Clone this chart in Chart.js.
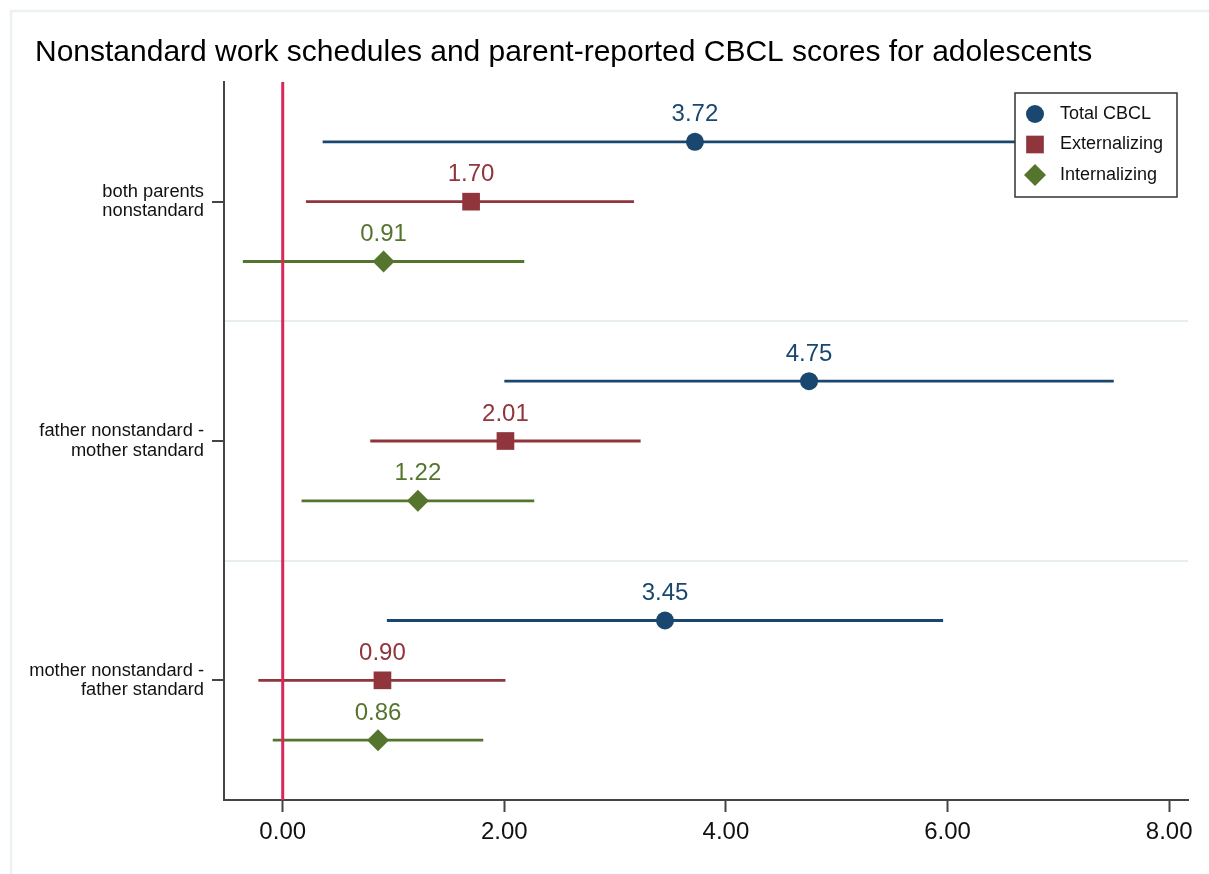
<!DOCTYPE html>
<html>
<head>
<meta charset="utf-8">
<script src="https://cdn.jsdelivr.net/npm/chart.js@4.4.1/dist/chart.umd.min.js"></script>
<style>
  html, body { margin: 0; padding: 0; background: #fff; }
  #wrap { width: 1209px; height: 874px; }
</style>
</head>
<body>
<div id="wrap"><canvas id="cbclChart" width="1209" height="874"></canvas></div>
<script>
// Groups (y categories), top to bottom
const groupLabels = [
    ['both parents', 'nonstandard'],
    ['father nonstandard -', 'mother standard'],
    ['mother nonstandard -', 'father standard']
];
const seriesNames = ['Total CBCL', 'Externalizing', 'Internalizing'];

// Estimates and 95% CI bounds, one value per group
const totalEst = [3.72, 4.75, 3.45];
const totalLo  = [0.36, 2.00, 0.94];
const totalHi  = [7.08, 7.50, 5.96];

const extEst = [1.70, 2.01, 0.90];
const extLo  = [0.21, 0.79, -0.22];
const extHi  = [3.17, 3.23, 2.01];

const intEst = [0.91, 1.22, 0.86];
const intLo  = [-0.36, 0.17, -0.09];
const intHi  = [2.18, 2.27, 1.81];

const xTicks = [0, 2, 4, 6, 8];

const colors = ['#1a476f', '#90353b', '#55752f'];
const styles = ['circle', 'rect', 'rectRot'];
const radii = [9, 12.5, 11];

const est = [totalEst, extEst, intEst];
const lo = [totalLo, extLo, intLo];
const hi = [totalHi, extHi, intHi];

// row position: each group takes 4 units, series stacked inside
function rowY(g, s) { return 4 * g + 1 + s; }

let datasets = [];

// point markers
seriesNames.forEach(function (name, s) {
    datasets.push({
        type: 'scatter',
        label: name,
        isPoint: true,
        data: est[s].map((v, g) => ({ x: v, y: rowY(g, s) })),
        backgroundColor: colors[s],
        borderColor: colors[s],
        pointStyle: styles[s],
        pointRadius: radii[s],
        pointHoverRadius: radii[s],
        borderWidth: 0,
        order: 0
    });
});

// zero reference line
datasets.push({
    type: 'line',
    label: 'zero',
    data: [{ x: 0, y: 0 }, { x: 0, y: 12 }],
    borderColor: '#d7285c',
    borderWidth: 3,
    pointRadius: 0,
    order: 1
});

// confidence interval lines, segments split by null points
seriesNames.forEach(function (name, s) {
    let pts = [];
    lo[s].forEach(function (l, g) {
        pts.push({ x: l, y: rowY(g, s) });
        pts.push({ x: hi[s][g], y: rowY(g, s) });
        pts.push({ x: hi[s][g], y: null });
    });
    datasets.push({
        type: 'line',
        label: name + ' CI',
        data: pts,
        borderColor: colors[s],
        borderWidth: 2.8,
        pointRadius: 0,
        spanGaps: false,
        order: 2
    });
});

// outer frame (top and left light lines)
const framePlugin = {
    id: 'frame',
    beforeDraw(chart) {
        const c = chart.ctx;
        c.save();
        c.strokeStyle = '#ebf1f4';
        c.lineWidth = 2.5;
        c.beginPath();
        c.moveTo(11, chart.height);
        c.lineTo(11, 11);
        c.lineTo(chart.width, 11);
        c.stroke();
        c.restore();
    }
};

// let the long y labels extend left of the title indent without clipping
const widenYLabels = {
    id: 'widenYLabels',
    afterLayout(chart) {
        chart.scales.y.left = 12;
    }
};

// value labels above markers
const valueLabels = {
    id: 'valueLabels',
    afterDatasetsDraw(chart) {
        const c = chart.ctx;
        c.save();
        c.font = '24px "Liberation Sans", Arial, sans-serif';
        c.textAlign = 'center';
        c.textBaseline = 'middle';
        chart.data.datasets.forEach(function (ds, i) {
            if (!ds.isPoint) return;
            const meta = chart.getDatasetMeta(i);
            c.fillStyle = ds.backgroundColor;
            meta.data.forEach(function (el, j) {
                c.fillText(ds.data[j].x.toFixed(2), el.x, el.y - 27);
            });
        });
        c.restore();
    }
};

// legend box inside the plot area, top right
const boxLegend = {
    id: 'boxLegend',
    afterDraw(chart) {
        const c = chart.ctx;
        const area = chart.chartArea;
        const w = 162, h = 104;
        const x0 = area.right - 11 - w, y0 = area.top + 11;
        c.save();
        c.fillStyle = '#fff';
        c.fillRect(x0, y0, w, h);
        c.strokeStyle = '#333';
        c.lineWidth = 1.5;
        c.strokeRect(x0, y0, w, h);
        c.font = '18px "Liberation Sans", Arial, sans-serif';
        c.textBaseline = 'middle';
        c.textAlign = 'left';
        let row = 0;
        chart.data.datasets.forEach(function (ds) {
            if (!ds.isPoint) return;
            const cy = y0 + 21 + row * 30.5;
            c.fillStyle = ds.backgroundColor;
            c.strokeStyle = ds.backgroundColor;
            Chart.helpers.drawPoint(c, { pointStyle: ds.pointStyle, radius: ds.pointRadius, borderWidth: 0 }, x0 + 20, cy);
            c.fillStyle = '#111';
            c.fillText(ds.label, x0 + 45, cy);
            row++;
        });
        c.restore();
    }
};

const ctx = document.getElementById('cbclChart').getContext('2d');
const cbclChart = new Chart(ctx, {
    type: 'scatter',
    data: { datasets: datasets },
    plugins: [framePlugin, widenYLabels, valueLabels, boxLegend],
    options: {
        responsive: false,
        animation: false,
        layout: { padding: { left: 35, right: 21, top: 0, bottom: 0 } },
        plugins: {
            legend: { display: false },
            tooltip: { enabled: false },
            title: {
                display: true,
                text: 'Nonstandard work schedules and parent-reported CBCL scores for adolescents',
                align: 'start',
                color: '#000',
                font: { family: '"Liberation Sans", Arial, sans-serif', size: 30, weight: 'normal', lineHeight: 1.0 },
                padding: { top: 38, bottom: 14 }
            }
        },
        scales: {
            x: {
                type: 'linear',
                min: -0.53,
                max: 8.17,
                afterBuildTicks: function (scale) {
                    scale.ticks = xTicks.map(v => ({ value: v }));
                },
                afterFit: function (scale) { scale.height = 74; },
                ticks: {
                    callback: v => v.toFixed(2),
                    color: '#111',
                    font: { family: '"Liberation Sans", Arial, sans-serif', size: 24 },
                    padding: 6,
                    maxRotation: 0
                },
                grid: { drawOnChartArea: false, tickLength: 12, tickColor: '#444', tickWidth: 2 },
                border: { color: '#444', width: 2 }
            },
            y: {
                type: 'linear',
                min: 0,
                max: 12,
                reverse: true,
                afterBuildTicks: function (scale) {
                    scale.ticks = [2, 4, 6, 8, 10].map(v => ({ value: v }));
                },
                afterFit: function (scale) { scale.width = 189; },
                ticks: {
                    callback: function (v) {
                        return v % 4 === 2 ? groupLabels[(v - 2) / 4] : '';
                    },
                    color: '#111',
                    font: { family: '"Liberation Sans", Arial, sans-serif', size: 18.3, lineHeight: 1.05 },
                    padding: 8
                },
                grid: {
                    color: c => (c.tick && c.tick.value % 4 === 0) ? '#e6eef0' : 'rgba(0,0,0,0)',
                    tickColor: c => (c.tick && c.tick.value % 4 === 2) ? '#444' : 'rgba(0,0,0,0)',
                    lineWidth: 2,
                    tickWidth: 2,
                    tickLength: 12
                },
                border: { color: '#444', width: 2 }
            }
        }
    }
});
</script>
</body>
</html>
